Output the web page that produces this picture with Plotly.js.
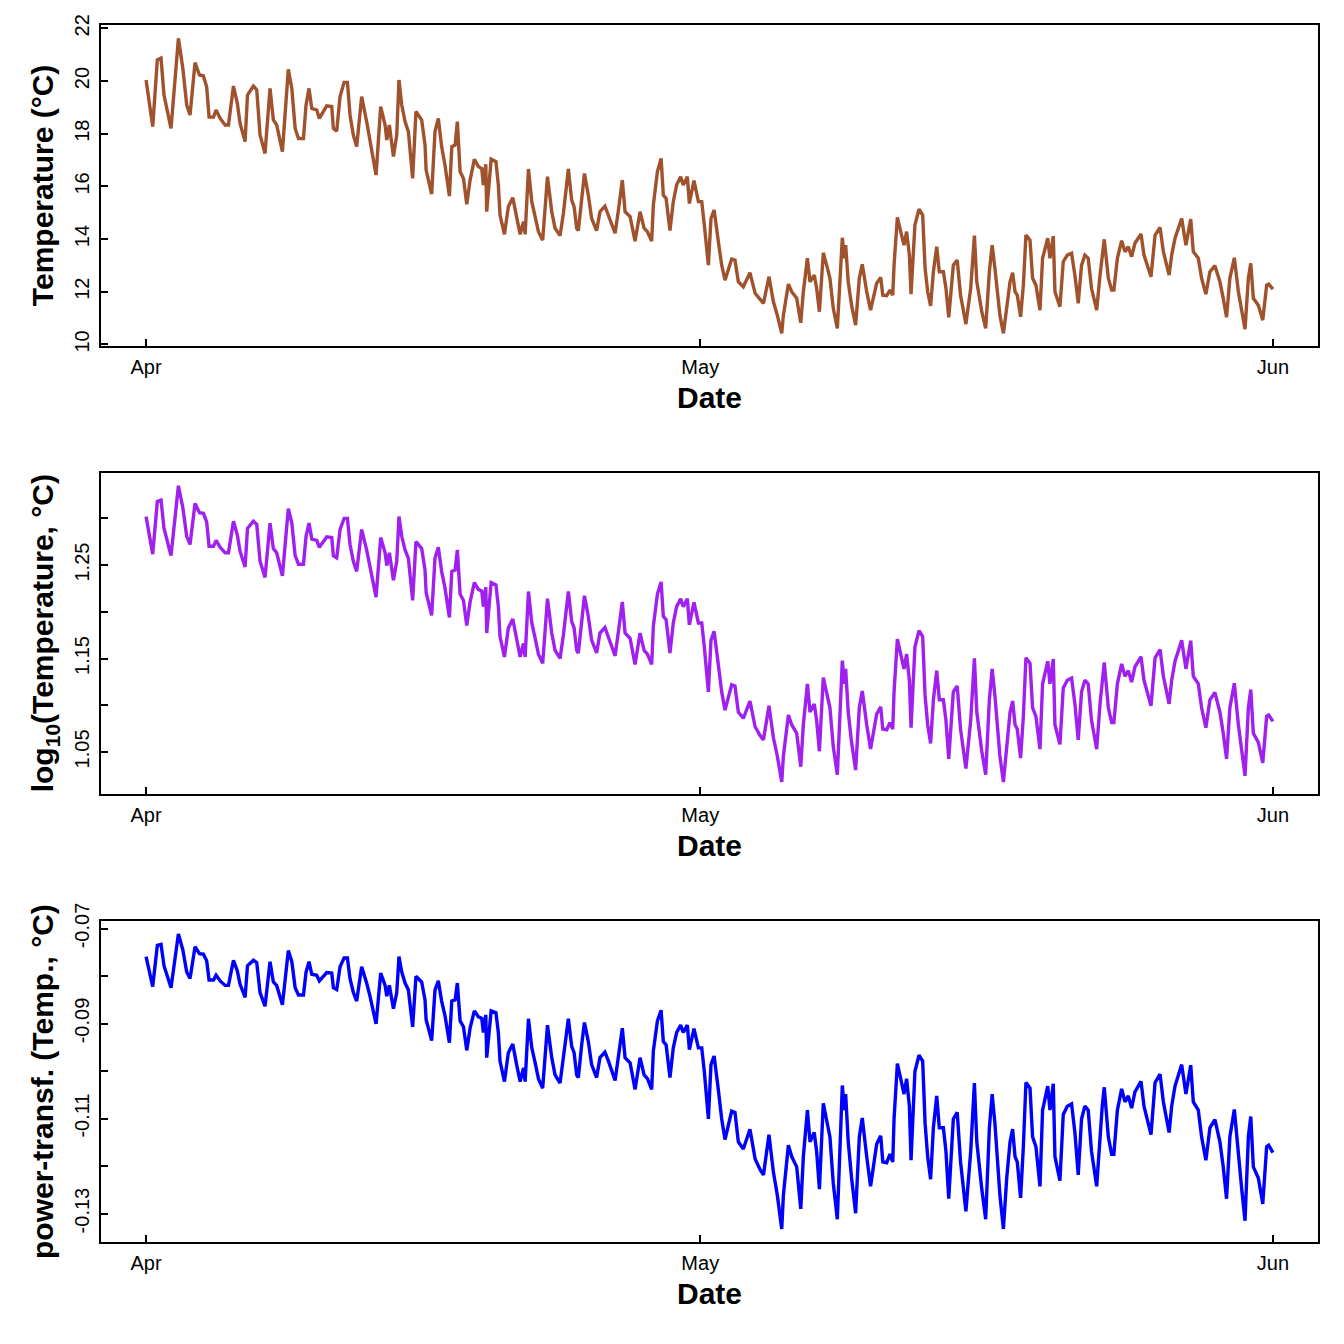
<!DOCTYPE html>
<html>
<head>
<meta charset="utf-8">
<script src="https://cdn.plot.ly/plotly-3.0.1.min.js"></script>
<style>
  html, body { margin: 0; padding: 0; background: #ffffff; }
  #chart { width: 1344px; height: 1344px; }
</style>
</head>
<body>
<div id="chart"></div>
<script>
// ---- Data (days since 1 April, temperature in °C) ----
const dayOffset = [
  0.00,0.36,0.61,0.81,0.97,1.12,1.35,1.75,1.99,2.20,2.38,2.65,2.89,3.10,3.28,3.41,3.65,3.79,4.01,4.28,
  4.46,4.73,4.94,5.09,5.36,5.49,5.81,5.99,6.17,6.44,6.71,6.89,7.07,7.38,7.70,7.89,8.07,8.25,8.52,8.66,
  8.82,8.97,9.24,9.38,9.78,10.05,10.14,10.32,10.50,10.72,10.90,11.04,11.22,11.40,11.67,11.94,12.12,12.45,12.70,12.94,
  13.03,13.17,13.39,13.57,13.69,13.84,14.02,14.20,14.43,14.61,14.92,15.10,15.16,15.46,15.64,15.82,16.00,16.18,16.42,16.55,
  16.73,16.85,17.00,17.18,17.36,17.54,17.77,17.99,18.17,18.26,18.39,18.44,18.68,18.94,19.07,19.16,19.40,19.61,19.85,20.06,
  20.25,20.43,20.52,20.70,20.88,21.06,21.24,21.47,21.60,21.73,21.96,22.14,22.41,22.59,22.86,23.04,23.17,23.31,23.40,23.58,
  23.73,23.94,24.12,24.39,24.57,24.84,25.03,25.39,25.57,25.78,25.93,26.20,26.47,26.74,26.96,27.14,27.37,27.46,27.68,27.88,
  28.00,28.15,28.36,28.54,28.72,28.94,29.08,29.30,29.41,29.66,29.90,30.08,30.22,30.44,30.58,30.75,30.98,31.16,31.34,31.70,
  31.88,32.06,32.33,32.69,32.97,33.24,33.42,33.72,33.96,34.17,34.41,34.50,34.77,34.95,35.22,35.44,35.58,35.80,35.94,36.17,
  36.30,36.45,36.66,36.84,37.02,37.20,37.42,37.69,37.80,37.87,38.01,38.19,38.41,38.61,38.77,39.01,39.22,39.55,39.77,39.88,
  40.09,40.27,40.42,40.49,40.67,40.85,41.03,41.17,41.32,41.41,41.62,41.84,42.04,42.17,42.31,42.47,42.62,42.80,42.94,43.16,
  43.30,43.45,43.70,43.91,44.09,44.38,44.64,44.84,44.97,45.24,45.45,45.65,45.80,45.95,46.08,46.22,46.41,46.59,46.77,46.91,
  47.04,47.16,47.34,47.49,47.63,47.85,47.99,48.17,48.39,48.53,48.81,48.93,49.11,49.20,49.47,49.65,49.87,50.10,50.28,50.46,
  50.64,50.82,51.00,51.18,51.46,51.64,51.76,51.87,52.09,52.27,52.39,52.58,52.81,52.99,53.17,53.35,53.53,53.86,54.02,54.40,
  54.62,54.89,55.07,55.38,55.52,55.70,56.06,56.29,56.55,56.69,56.96,57.14,57.37,57.59,57.86,58.13,58.31,58.49,58.67,58.91,
  59.13,59.31,59.49,59.67,59.80,59.94,60.21,60.45,60.66,60.77,61.00
];
const temperature = [
  20.04,18.27,20.80,20.87,19.47,18.96,18.20,21.62,20.48,19.09,18.71,20.70,20.23,20.20,19.78,18.63,18.63,18.90,18.58,18.33,
  18.33,19.81,19.15,18.39,17.70,19.47,19.81,19.66,17.95,17.25,19.72,18.52,18.33,17.32,20.44,19.72,18.20,17.82,17.82,19.09,
  19.72,18.96,18.90,18.58,19.06,19.03,18.20,18.10,19.41,19.95,19.95,18.71,17.95,17.51,19.41,18.46,17.76,16.43,19.03,18.33,
  17.76,18.33,17.13,17.95,20.04,19.09,18.46,18.08,16.30,18.84,18.52,17.57,16.62,15.71,18.08,18.58,17.51,16.81,15.63,17.51,
  17.57,18.46,16.56,16.30,15.32,16.24,17.03,16.75,16.68,16.05,16.84,15.04,17.03,16.94,16.05,14.91,14.18,15.23,15.57,14.78,
  14.18,14.66,14.18,16.66,15.42,14.85,14.28,13.96,15.29,16.37,15.04,14.41,14.13,14.97,16.66,15.48,15.23,14.41,14.32,15.54,
  16.49,15.67,14.78,14.32,15.04,15.25,14.91,14.22,15.10,16.24,15.04,14.85,13.92,15.04,14.41,14.28,13.92,15.29,16.56,17.06,
  15.67,15.54,14.32,15.42,16.05,16.37,16.05,16.37,15.35,16.22,15.42,15.42,14.53,13.01,14.78,15.10,13.90,13.01,12.44,13.24,
  13.20,12.38,12.19,12.72,11.94,11.68,11.56,12.57,11.62,11.11,10.42,11.11,12.29,12.00,11.75,10.82,12.00,13.27,12.38,12.63,
  12.13,11.24,13.48,13.01,12.51,11.37,10.61,14.05,13.27,13.77,12.38,11.49,10.73,12.51,13.04,12.00,11.30,12.32,12.54,11.87,
  11.85,12.06,11.87,13.01,14.82,14.28,13.77,14.28,13.39,11.91,14.53,15.13,14.91,12.89,12.00,11.46,12.76,13.71,12.76,12.76,
  12.13,11.03,13.01,13.20,11.87,10.77,12.13,14.13,12.38,11.24,10.61,12.76,13.77,12.89,12.00,11.11,10.42,11.49,12.38,12.72,
  12.00,11.87,11.05,12.25,14.15,13.96,12.51,12.25,11.30,13.27,14.03,13.27,14.11,12.00,11.43,13.14,13.39,13.46,12.63,11.56,
  13.01,13.39,13.27,12.13,11.30,12.63,13.39,13.99,12.51,12.06,12.06,13.27,13.94,13.52,13.71,13.33,13.84,14.19,13.39,12.57,
  14.15,14.44,13.52,12.63,13.39,14.03,14.78,13.77,14.76,13.52,13.27,12.51,11.91,12.76,12.99,12.38,11.75,11.03,12.51,13.29,
  12.00,11.24,10.58,12.51,13.08,11.75,11.49,10.92,12.25,12.29,12.10
];
// Exponent of the power transformation used in the bottom panel: -T^lambda
const powerLambda = -0.86;

const monthTickDays = [0, 30, 61];
const monthTickLabels = ['Apr', 'May', 'Jun'];
const tempTicks = [10, 12, 14, 16, 18, 20, 22];
const logLabelTicks = [1.05, 1.15, 1.25];
const logMinorTicks = [1.10, 1.20, 1.30];
const powerLabelTicks = [-0.13, -0.11, -0.09, -0.07];
const powerMinorTicks = [-0.12, -0.10, -0.08];

// ---- helpers ----
const BASE = Date.UTC(2021, 3, 1);
function dayToDate(d) {
  return new Date(BASE + d * 86400000).toISOString().slice(0, 19).replace('T', ' ');
}
const xDates = dayOffset.map(dayToDate);
const powerTransf = temperature.map(t => -Math.pow(t, powerLambda));

const FONT = 'Liberation Sans, Arial, sans-serif';
const TICKFONT = { family: FONT, size: 20, color: '#000' };
const TITLEFONT = { family: FONT, size: 30, color: '#000', weight: 'bold' };
const LW = 3.4;

const traces = [
  { x: xDates, y: temperature, type: 'scatter', mode: 'lines',
    line: { color: '#A0522D', width: LW }, xaxis: 'x', yaxis: 'y', hoverinfo: 'skip' },
  { x: xDates, y: temperature, type: 'scatter', mode: 'lines',
    line: { color: '#A020F0', width: LW }, xaxis: 'x2', yaxis: 'y2', hoverinfo: 'skip' },
  { x: xDates, y: powerTransf, type: 'scatter', mode: 'lines',
    line: { color: '#0000FF', width: LW }, xaxis: 'x3', yaxis: 'y3', hoverinfo: 'skip' }
];

const MINOR_STYLE = { ticks: 'inside', ticklen: 7, tickwidth: 2, tickcolor: '#000', showgrid: false };

function xAxis(anchor) {
  return {
    type: 'date', anchor: anchor,
    range: [dayToDate(-2.44), dayToDate(63.44)],
    tickmode: 'array', tickvals: monthTickDays.map(dayToDate), ticktext: monthTickLabels,
    ticks: 'inside', ticklen: 7, tickwidth: 2, tickcolor: '#000',
    showline: true, mirror: true, linecolor: '#000', linewidth: 2,
    showgrid: false, zeroline: false, tickfont: TICKFONT,
    ticklabelstandoff: 2,
    title: { text: 'Date', font: TITLEFONT, standoff: 10 },
    automargin: false
  };
}
function yAxis(domain, anchor, extra) {
  return Object.assign({
    domain: domain, anchor: anchor,
    ticks: 'inside', ticklen: 7, tickwidth: 2, tickcolor: '#000',
    showline: true, mirror: true, linecolor: '#000', linewidth: 2,
    showgrid: false, zeroline: false, tickfont: TICKFONT, tickangle: -90,
    ticklabelstandoff: 2,
    automargin: false
  }, extra);
}

const layout = {
  width: 1344, height: 1344,
  margin: { l: 101, r: 26, t: 25, b: 102 },
  paper_bgcolor: '#ffffff', plot_bgcolor: '#ffffff',
  showlegend: false,
  font: { family: FONT, color: '#000' },
  xaxis: xAxis('y'),
  xaxis2: xAxis('y2'),
  xaxis3: xAxis('y3'),
  yaxis: yAxis([0.7364, 1], 'x', {
    range: [9.947, 22.127], tickmode: 'array', tickvals: tempTicks,
    ticktext: tempTicks.map(String),
    title: { text: 'Temperature (°C)', font: TITLEFONT, standoff: 8 }
  }),
  yaxis2: yAxis([0.3685, 0.6320], 'x2', {
    type: 'log', range: [1.0055, 1.3487], tickmode: 'array',
    tickvals: logLabelTicks.map(v => Math.pow(10, v)),
    ticktext: logLabelTicks.map(v => v.toFixed(2)),
    minor: Object.assign({ tickmode: 'array', tickvals: logMinorTicks.map(v => Math.pow(10, v)) }, MINOR_STYLE),
    title: { text: 'log<sub>10</sub>(Temperature, °C)', font: TITLEFONT, standoff: 8 }
  }),
  yaxis3: yAxis([0, 0.2636], 'x3', {
    range: [-0.13598, -0.06846], tickmode: 'array',
    tickvals: powerLabelTicks, ticktext: powerLabelTicks.map(v => v.toFixed(2)),
    minor: Object.assign({ tickmode: 'array', tickvals: powerMinorTicks }, MINOR_STYLE),
    title: { text: 'power-transf. (Temp., °C)', font: TITLEFONT, standoff: 8 }
  })
};

Plotly.newPlot('chart', traces, layout, { staticPlot: true, displayModeBar: false });
</script>
</body>
</html>
